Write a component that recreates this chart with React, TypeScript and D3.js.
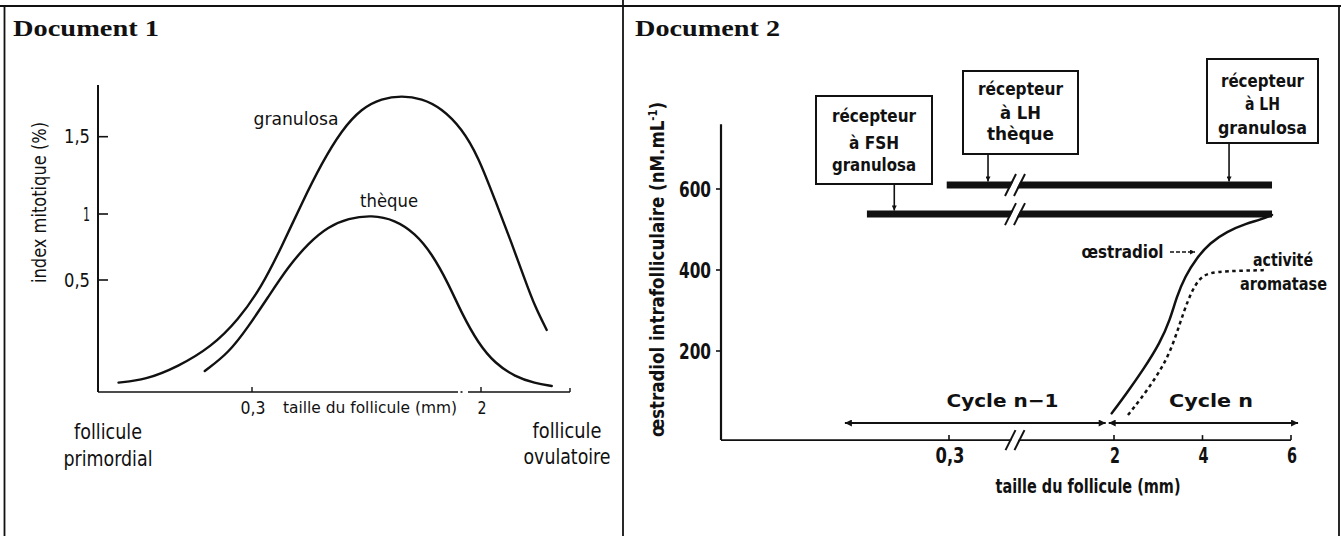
import React from "react";
import * as d3 from "d3";

// ---------------- Document 1 data ----------------
// x: taille du follicule (mm, broken schematic axis), y: index mitotique (%)
const doc1XTicks = [0.3, 2];
const doc1XTickLabels = ["0,3", "2"];
const doc1YTicks = [0.5, 1, 1.5];
const doc1YTickLabels = ["0,5", "1", "1,5"];

const granulosaSize = [0.04, 0.092, 0.156, 0.221, 0.273, 0.372, 0.52, 0.669, 0.817, 0.966, 1.114, 1.263, 1.411, 1.56, 1.708, 1.857, 1.98, 4.83, 8.21, 10.9, 12.92, 15.29];
const granulosaIndex = [0.042, 0.054, 0.113, 0.202, 0.321, 0.47, 0.752, 1.069, 1.328, 1.543, 1.684, 1.748, 1.765, 1.748, 1.684, 1.554, 1.371, 1.091, 0.778, 0.5, 0.381, 0.277];

const thequeSize = [0.208, 0.254, 0.293, 0.421, 0.569, 0.718, 0.866, 1.015, 1.189, 1.362, 1.51, 1.634, 1.757, 1.857, 1.98, 4.83, 8.88, 12.92, 16.3];
const thequeIndex = [0.094, 0.173, 0.292, 0.425, 0.601, 0.778, 0.904, 0.967, 0.992, 0.955, 0.854, 0.702, 0.485, 0.351, 0.217, 0.128, 0.068, 0.039, 0.027];

// ---------------- Document 2 data ----------------
const doc2XTicks = [0.3, 2, 4, 6];
const doc2XTickLabels = ["0,3", "2", "4", "6"];
const doc2YTicks = [200, 400, 600];
const doc2YTickLabels = ["200", "400", "600"];

const oestradiolSize = [1.976, 2.287, 2.655, 3.04, 3.266, 3.417, 3.605, 3.869, 4.169, 4.547, 4.999, 5.299, 5.571];
const oestradiolConc = [46, 96, 153, 220, 277, 334, 384, 430, 467, 495, 515, 524, 536];

const aromataseSize = [2.316, 2.588, 2.965, 3.266, 3.492, 3.672, 3.831, 4.011, 4.321, 4.847, 5.451];
const aromataseLevel = [42, 79, 137, 195, 269, 326, 363, 388, 396, 398, 400];

// receptor presence bars (level on y axis, start / end size)
const barLevels = [610, 538];
const barStart = [0.297, 0.192];
const barEnd = [5.571, 5.571];
const barBreakAt = 0.98;

// receptor boxes: text lines, target size, target bar
const boxLines = [
  ["récepteur", "à FSH", "granulosa"],
  ["récepteur", "à LH", "thèque"],
  ["récepteur", "à LH", "granulosa"],
];
const boxTargetSize = [0.228, 0.702, 4.6];
const boxTargetBar = [1, 0, 0];

const cycleLabels = ["Cycle n\u22121", "Cycle n"];
const cycleFrom = [0.163, 1.93];
const cycleTo = [1.93, 6.16];

// ---------------- styles ----------------
const SANS = "'Liberation Sans Narrow','DejaVu Sans Condensed','Liberation Sans','DejaVu Sans',sans-serif";
const SERIF = "'Liberation Serif','DejaVu Serif',serif";
const INK = "#111";

type LabelProps = {
  x: number; y: number; len?: number; size: number; anchor?: string; weight?: number | string;
  family?: string; rotate?: boolean; children: React.ReactNode;
};
function Label({ x, y, len, size, anchor = "middle", weight = 400, family = SANS, rotate = false, children }: LabelProps) {
  return (
    <text
      x={rotate ? 0 : x}
      y={rotate ? 0 : y}
      transform={rotate ? `translate(${x},${y}) rotate(-90)` : undefined}
      textAnchor={anchor as any}
      fontSize={size}
      fontWeight={weight as any}
      fontFamily={family}
      textLength={len}
      lengthAdjust={len ? "spacingAndGlyphs" : undefined}
      fill={INK}
    >
      {children}
    </text>
  );
}

export default function App() {
  // ---- scales Document 1 (schematic, broken axis) ----
  const x1 = d3.scaleLinear().domain([0, 0.3, 2, 20]).range([98, 252, 481, 570]);
  const y1 = d3.scaleLinear().domain([0, 0.5, 1, 1.5]).range([392, 280, 214, 136.7]);
  const y1Top = 1.834;

  const line1 = d3
    .line<[number, number]>()
    .x((d) => x1(d[0]))
    .y((d) => y1(d[1]))
    .curve(d3.curveBasis);
  const granulosa = granulosaSize.map((s, i) => [s, granulosaIndex[i]] as [number, number]);
  const theque = thequeSize.map((s, i) => [s, thequeIndex[i]] as [number, number]);

  // ---- scales Document 2 ----
  const x2 = d3.scaleLinear().domain([0, 0.3, 2, 6]).range([721, 949, 1114, 1291]);
  const y2 = d3.scaleLinear().domain([0, 600]).range([432, 189]);
  const y2Bottom = -20;
  const y2Top = 760;

  const line2 = d3
    .line<[number, number]>()
    .x((d) => x2(d[0]))
    .y((d) => y2(d[1]))
    .curve(d3.curveBasis);
  const oestradiol = oestradiolSize.map((s, i) => [s, oestradiolConc[i]] as [number, number]);
  const aromatase = aromataseSize.map((s, i) => [s, aromataseLevel[i]] as [number, number]);

  const axis1Y = y1(0);
  const axis2Y = y2(y2Bottom);
  const axis2X = x2(0);

  const boxLayout = [
    { x: 816, y: 96, w: 116, h: 88, base: [122, 149, 171], widths: [84, 50, 84] },
    { x: 963, y: 71, w: 115, h: 83, base: [95, 119, 140], widths: [85, 41, 67] },
    { x: 1207, y: 59, w: 111, h: 84, base: [87, 110, 134], widths: [83, 35, 89] },
  ];
  const barThick = 7;

  const breakMark = (cx: number, cy: number, half: number, key: string) => {
    const dx = half * 0.5;
    const off = 9;
    return (
      <g key={key}>
        <polygon
          points={`${cx - off / 2 - dx + 1},${cy + half} ${cx - off / 2 + dx + 1},${cy - half} ${cx + off / 2 + dx - 1},${cy - half} ${cx + off / 2 - dx - 1},${cy + half}`}
          fill="#fff"
        />
        <line x1={cx - off / 2 - dx} y1={cy + half} x2={cx - off / 2 + dx} y2={cy - half} stroke={INK} strokeWidth={2} />
        <line x1={cx + off / 2 - dx} y1={cy + half} x2={cx + off / 2 + dx} y2={cy - half} stroke={INK} strokeWidth={2} />
      </g>
    );
  };

  return (
    <svg
      width={1341}
      height={536}
      viewBox="0 0 1341 536"
      style={{ position: "absolute", left: 0, top: 0, background: "#fff" }}
    >
      <defs>
        <marker id="ah" viewBox="0 0 10 10" refX="10" refY="5" markerUnits="userSpaceOnUse" markerWidth="9" markerHeight="7" orient="auto-start-reverse">
          <path d="M0,0 L10,5 L0,10 z" fill={INK} />
        </marker>
        <marker id="ahs" viewBox="0 0 10 10" refX="10" refY="5" markerUnits="userSpaceOnUse" markerWidth="6" markerHeight="5" orient="auto">
          <path d="M0,0 L10,5 L0,10 z" fill={INK} />
        </marker>
      </defs>
      <rect x={0} y={0} width={1341} height={536} fill="#fff" />

      {/* frame */}
      <line x1={0} y1={6} x2={1341} y2={6} stroke={INK} strokeWidth={2} />
      <line x1={4.5} y1={6} x2={4.5} y2={536} stroke={INK} strokeWidth={1.8} />
      <line x1={623} y1={0} x2={623} y2={536} stroke={INK} strokeWidth={1.8} />
      <line x1={1339} y1={6} x2={1339} y2={536} stroke={INK} strokeWidth={1.8} />

      {/* ================= Document 1 ================= */}
      <Label x={13} y={36} size={23} weight={700} family={SERIF} anchor="start" len={146}>Document 1</Label>

      {/* axes */}
      <line x1={x1(0)} y1={y1(y1Top)} x2={x1(0)} y2={axis1Y} stroke={INK} strokeWidth={2} />
      <line x1={x1(0)} y1={axis1Y} x2={458} y2={axis1Y} stroke={INK} strokeWidth={1.6} />
      <line x1={460.5} y1={axis1Y} x2={462.5} y2={axis1Y} stroke={INK} strokeWidth={1.6} />
      <line x1={468} y1={axis1Y} x2={x1(20)} y2={axis1Y} stroke={INK} strokeWidth={1.6} />
      <line x1={x1(20)} y1={axis1Y} x2={x1(20)} y2={axis1Y - 4} stroke={INK} strokeWidth={1.4} />

      {doc1YTicks.map((t, i) => (
        <g key={"y1" + t}>
          <line x1={x1(0)} y1={y1(t)} x2={x1(0) + 10} y2={y1(t)} stroke={INK} strokeWidth={1.6} />
          <Label x={90} y={y1(t) + 6.5} size={20} anchor="end" weight={500} len={doc1YTickLabels[i].length > 1 ? 26 : 7}>
            {doc1YTickLabels[i]}
          </Label>
        </g>
      ))}
      {doc1XTicks.map((t, i) => (
        <g key={"x1" + t}>
          <line x1={x1(t)} y1={axis1Y} x2={x1(t)} y2={axis1Y - 5} stroke={INK} strokeWidth={1.4} />
          <Label x={x1(t) + 1} y={414} size={18} weight={500} len={doc1XTickLabels[i].length > 1 ? 25 : 9}>
            {doc1XTickLabels[i]}
          </Label>
        </g>
      ))}
      <Label x={370} y={413} size={15} len={174}>taille du follicule (mm)</Label>
      <Label x={46} y={202.5} size={20} rotate len={161}>index mitotique (%)</Label>
      <Label x={108} y={439} size={21} weight={500} len={68}>follicule</Label>
      <Label x={108} y={466} size={21} weight={500} len={89}>primordial</Label>
      <Label x={567} y={438} size={21} weight={500} len={69}>follicule</Label>
      <Label x={567} y={464} size={21} weight={500} len={87}>ovulatoire</Label>

      {/* curves */}
      <path d={line1(granulosa) || ""} fill="none" stroke={INK} strokeWidth={2.4} strokeLinecap="round" />
      <path d={line1(theque) || ""} fill="none" stroke={INK} strokeWidth={2.4} strokeLinecap="round" />
      <Label x={296} y={125} size={17} len={85}>granulosa</Label>
      <Label x={389} y={207} size={17} len={58}>thèque</Label>

      {/* ================= Document 2 ================= */}
      <Label x={635} y={36} size={23} weight={700} family={SERIF} anchor="start" len={145}>Document 2</Label>

      {/* axes */}
      <line x1={axis2X} y1={y2(y2Top)} x2={axis2X} y2={axis2Y} stroke={INK} strokeWidth={2.2} />
      <line x1={axis2X} y1={axis2Y} x2={x2(6)} y2={axis2Y} stroke={INK} strokeWidth={1.8} />
      {doc2YTicks.map((t, i) => (
        <g key={"y2" + t}>
          <line x1={axis2X - 5} y1={y2(t)} x2={axis2X} y2={y2(t)} stroke={INK} strokeWidth={1.6} />
          <Label x={711} y={y2(t) + 8} size={21} anchor="end" weight={700} len={32}>{doc2YTickLabels[i]}</Label>
        </g>
      ))}
      {doc2XTicks.map((t, i) => (
        <g key={"x2" + t}>
          <line x1={x2(t)} y1={axis2Y} x2={x2(t)} y2={axis2Y - 5} stroke={INK} strokeWidth={1.6} />
          <Label x={x2(t) + 1} y={463} size={21} weight={700} len={doc2XTickLabels[i].length > 1 ? 29 : 10}>
            {doc2XTickLabels[i]}
          </Label>
        </g>
      ))}
      {breakMark(x2(barBreakAt), axis2Y, 10, "axbreak")}
      <Label x={1088} y={493} size={19} weight={600} len={185}>taille du follicule (mm)</Label>
      <Label x={664} y={269.5} size={20} rotate weight={700} len={335}>
        œstradiol intrafolliculaire (nM.mL
        <tspan baselineShift="super" fontSize={12}>-1</tspan>)
      </Label>

      {/* receptor bars */}
      {barLevels.map((lv, i) => (
        <g key={"bar" + i}>
          <line x1={x2(barStart[i])} y1={y2(lv)} x2={x2(barEnd[i])} y2={y2(lv)} stroke={INK} strokeWidth={barThick} />
          {breakMark(x2(barBreakAt), y2(lv), 11, "bb" + i)}
        </g>
      ))}

      {/* receptor boxes */}
      {boxLines.map((lines, i) => {
        const b = boxLayout[i];
        const tx = x2(boxTargetSize[i]);
        const ty = y2(barLevels[boxTargetBar[i]]) - barThick / 2;
        return (
          <g key={"box" + i}>
            <rect x={b.x} y={b.y} width={b.w} height={b.h} fill="#fff" stroke={INK} strokeWidth={2} />
            {lines.map((s, j) => (
              <Label key={j} x={b.x + b.w / 2} y={b.base[j]} size={17} weight={700} len={b.widths[j]}>{s}</Label>
            ))}
            <line x1={tx} y1={b.y + b.h} x2={tx} y2={ty} stroke={INK} strokeWidth={1.6} markerEnd="url(#ahs)" />
          </g>
        );
      })}

      {/* curves */}
      <path d={line2(oestradiol) || ""} fill="none" stroke={INK} strokeWidth={2.5} strokeLinecap="round" />
      <path d={line2(aromatase) || ""} fill="none" stroke={INK} strokeWidth={2.5} strokeDasharray="3.5 3.5" />

      <Label x={1122.5} y={258} size={17} weight={700} len={82}>œstradiol</Label>
      <line x1={1170} y1={252} x2={1195} y2={252} stroke={INK} strokeWidth={1.6} strokeDasharray="4 2" markerEnd="url(#ahs)" />
      <Label x={1283} y={266} size={17} weight={700} len={60}>activité</Label>
      <Label x={1283.5} y={290} size={17} weight={700} len={87}>aromatase</Label>

      {/* cycle arrows */}
      {cycleLabels.map((lab, i) => {
        const a = x2(cycleFrom[i]) + (i === 0 ? 0 : 1.5);
        const b = x2(cycleTo[i]) - (i === 0 ? 1.5 : 0);
        return (
          <g key={"cy" + i}>
            <line x1={a} y1={423} x2={b} y2={423} stroke={INK} strokeWidth={2} markerStart="url(#ah)" markerEnd="url(#ah)" />
            <Label x={i === 0 ? 1002.5 : 1211} y={407} size={18} weight={700} len={i === 0 ? 112 : 84}>{lab}</Label>
          </g>
        );
      })}
    </svg>
  );
}
